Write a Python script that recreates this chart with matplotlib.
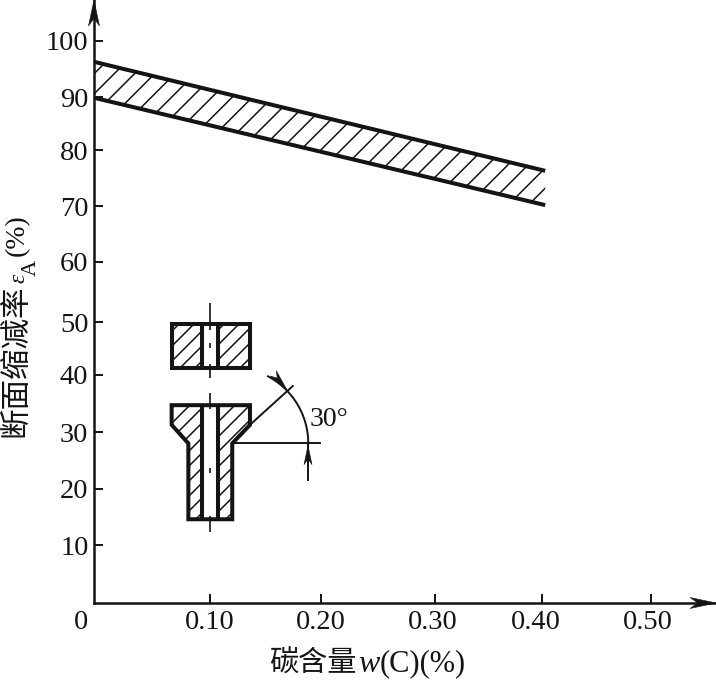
#!/usr/bin/env python3
"""Reduction of area vs carbon content, with the cold-heading specimen sketch"""

import matplotlib
matplotlib.use('Agg')
import matplotlib.pyplot as plt
import numpy as np
from matplotlib.lines import Line2D
from matplotlib.patches import Polygon, Rectangle
from matplotlib.transforms import IdentityTransform

plt.rcParams['font.family'] = ['Liberation Serif', 'Noto Sans CJK SC', 'DejaVu Sans']

INK = '#141414'

# band
band_x = [0.0, 0.405]
band_upper = [96.3, 76.9]
band_lower = [89.9, 70.8]

# the printed ticks are not quite evenly spaced
x_ticks = [0.104, 0.204, 0.306, 0.402, 0.500]
x_label_pos = [0.104, 0.204, 0.304, 0.397, 0.497]
x_labels = ['0.10', '0.20', '0.30', '0.40', '0.50']
y_ticks = [10.3, 20.3, 30.4, 40.6, 50.0, 60.7, 70.6, 80.6, 90.0, 100.0]
y_labels = ['10', '20', '30', '40', '50', '60', '70', '80', '90', '100']

# specimen sketch, in the chart's units
block_x = [0.0697, 0.1400]
block_y = [41.9, 49.6]
bore_x = [0.0965, 0.1113]
axis_x = 0.1041
headed_x = [0.0697, 0.1400, 0.1400, 0.1241, 0.1241, 0.0847, 0.0847, 0.0697]
headed_y = [35.2, 35.2, 31.7, 28.4, 14.9, 14.9, 28.4, 31.7]
center_segments = [(53.4, 48.6), (42.6, 40.0), (46.3, 45.4),
                   (37.4, 34.6), (24.1, 23.2), (15.4, 12.6)]
cone_line_x = [0.1400, 0.1784]
cone_line_y = [31.7, 38.6]
neck_line_x = [0.1241, 0.2029]
neck_line_y = [28.4, 28.4]
dim_center = (0.1241, 28.4)
dim_radius = 76     # pixels
dim_sweep = 62      # degrees

W, H = 716, 680
X0, Y0 = 94, 603
PX_X, PX_Y = 1114.0, 5.62   # pixels per data unit

fig = plt.figure(figsize=(W / 100, H / 100), dpi=100, facecolor='white')
ax = fig.add_axes([X0 / W, (H - Y0) / H, (W - X0) / W, Y0 / H])
ax.set_xlim(0, (W - X0) / PX_X)
ax.set_ylim(0, Y0 / PX_Y)


def hatch(xs, ys, spacing, start=0, lw=1.1):
    """45 degree lines clipped to a polygon, spacing measured along x in pixels"""
    clip = Polygon(np.column_stack([xs, ys]), closed=True, fc='none', ec='none')
    ax.add_patch(clip)
    pts = ax.transData.transform(np.column_stack([xs, ys]))
    lo = (pts[:, 0] - pts[:, 1]).min()
    hi = (pts[:, 0] - pts[:, 1]).max()
    k0 = np.floor((lo - start) / spacing)
    for c in start + spacing * np.arange(k0, (hi - start) / spacing + 1):
        ymin, ymax = pts[:, 1].min(), pts[:, 1].max()
        line = Line2D([ymin + c, ymax + c], [ymin, ymax], color=INK, lw=lw,
                      transform=IdentityTransform())
        ax.add_line(line)
        line.set_clip_path(clip)


def arrow_head(tip, angle, length=22, width=10):
    """Notched arrow head, sized in pixels"""
    t = ax.transData.transform(tip)
    a = np.radians(angle)
    d = np.array([np.cos(a), np.sin(a)])
    n = np.array([-d[1], d[0]])
    pts = [t, t - length * d + n * width / 2, t - length * 0.7 * d, t - length * d - n * width / 2]
    ax.add_patch(Polygon(pts, closed=True, fc=INK, ec=INK, lw=0.4,
                         transform=IdentityTransform(), clip_on=False, zorder=5))


def px_text(x, y, s, **kw):
    kw.setdefault('color', INK)
    fig.text(x / W, 1 - y / H, s, **kw)


# axes
for side in ['top', 'right']:
    ax.spines[side].set_visible(False)
for side in ['left', 'bottom']:
    ax.spines[side].set_linewidth(1.8)
    ax.spines[side].set_color(INK)
ax.set_xticks(x_ticks)
ax.set_xticklabels([])
ax.set_yticks(y_ticks)
ax.set_yticklabels(y_labels, fontsize=20.5, color=INK)
ax.tick_params(axis='both', direction='in', length=6.5, width=1.4, color=INK)
ax.tick_params(axis='y', pad=4)
arrow_head((ax.get_xlim()[1], 0), 0, length=26, width=11)
arrow_head((0, ax.get_ylim()[1]), 90, length=26, width=11)

for x, lab in zip(x_label_pos, x_labels):
    ax.text(x, -1.2, lab, fontsize=20.5, ha='center', va='top', color=INK)
ax.text(-0.0117, -1.2, '0', fontsize=20.5, ha='center', va='top', color=INK)

# band
band_poly_x = band_x + band_x[::-1]
band_poly_y = band_upper + band_lower[::-1]
hatch(band_poly_x, band_poly_y, 20.2, start=-492)
ax.plot(band_x, band_upper, color=INK, lw=2.9, solid_capstyle='butt', zorder=3)
ax.plot(band_x, band_lower, color=INK, lw=2.9, solid_capstyle='butt', zorder=3)

# specimen before upsetting
bx = [block_x[0], block_x[1], block_x[1], block_x[0]]
by = [block_y[0], block_y[0], block_y[1], block_y[1]]
hatch(bx, by, 15, start=3)
ax.add_patch(Rectangle((bore_x[0], block_y[0]), bore_x[1] - bore_x[0], block_y[1] - block_y[0],
                       fc='white', ec='none', zorder=2))
ax.add_patch(Polygon(np.column_stack([bx, by]), closed=True, fc='none', ec=INK, lw=2.9,
                     joinstyle='miter', zorder=3))

# specimen after upsetting
hatch(headed_x, headed_y, 15, start=5)
ax.add_patch(Rectangle((bore_x[0], min(headed_y)), bore_x[1] - bore_x[0], max(headed_y) - min(headed_y),
                       fc='white', ec='none', zorder=2))
ax.add_patch(Polygon(np.column_stack([headed_x, headed_y]), closed=True, fc='none', ec=INK, lw=2.9,
                     joinstyle='miter', zorder=3))

for x in bore_x:
    ax.plot([x, x], block_y, color=INK, lw=2.9, solid_capstyle='butt', zorder=3)
    ax.plot([x, x], [min(headed_y), max(headed_y)], color=INK, lw=2.9, solid_capstyle='butt', zorder=3)
for y0, y1 in center_segments:
    ax.plot([axis_x, axis_x], [y0, y1], color=INK, lw=1.2, solid_capstyle='butt', zorder=4)

# 30 degree dimension
ax.plot(cone_line_x, cone_line_y, color=INK, lw=1.4)
ax.plot(neck_line_x, neck_line_y, color=INK, lw=1.4)
theta = np.radians(np.linspace(0, dim_sweep, 60))
ax.plot(dim_center[0] + dim_radius / PX_X * np.cos(theta),
        dim_center[1] + dim_radius / PX_Y * np.sin(theta), color=INK, lw=1.4)
ax.plot([0.1921, 0.1921], [28.4, 21.9], color=INK, lw=1.4)
arrow_head((0.1921, 28.0), 90, length=19, width=8)
arrow_head((0.1730, 38.0), -50, length=21, width=8)
px_text(310, 420, '30°', fontsize=20, ha='left', va='center')

# axis titles
px_text(269, 664, '碳含量', fontsize=21, ha='left', va='center')
px_text(369, 664, 'w', fontsize=23, style='italic', ha='center', va='center')
px_text(380, 664, '(C)(%)', fontsize=22, ha='left', va='center')
px_text(17, 437, '断面缩减率', fontsize=22, rotation=90, ha='center', va='bottom')
px_text(19, 283, 'ε', fontsize=17, style='italic', rotation=90, ha='center', va='bottom')
px_text(31, 276, 'A', fontsize=16, rotation=90, ha='center', va='bottom')
px_text(17, 256, '(%)', fontsize=20, rotation=90, ha='center', va='bottom')

fig.savefig('out.png', dpi=100, facecolor='white')
